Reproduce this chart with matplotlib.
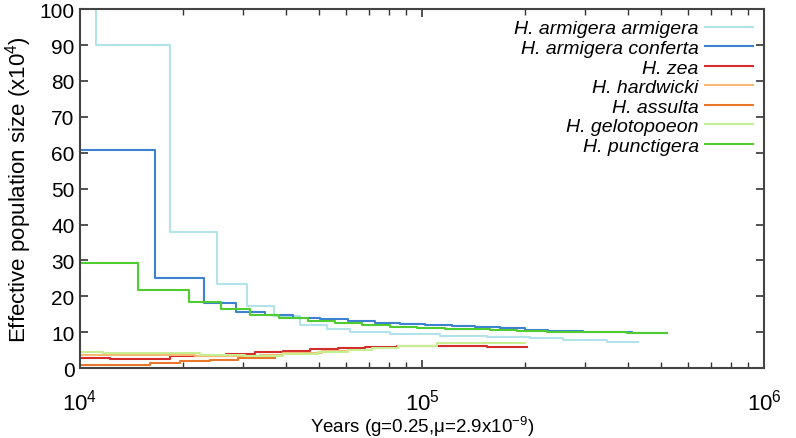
import numpy as np
import matplotlib.pyplot as plt

plt.rcParams['font.family'] = ['Liberation Sans', 'DejaVu Sans']
plt.rcParams['mathtext.fontset'] = 'custom'
plt.rcParams['mathtext.rm'] = 'Liberation Sans'
plt.rcParams['mathtext.it'] = 'Liberation Sans:italic'
plt.rcParams['mathtext.default'] = 'regular'

# PSMC step curves: years and Ne (x10^4), last point marks the end of the curve
arm_t = [10000, 11140, 18340, 25150, 30780, 36930, 43980, 52760, 61580, 80610,
         112900, 154900, 206900, 258400, 347500, 428000]
arm_ne = [112, 90.0, 37.9, 23.4, 17.3, 14.5, 12.0, 10.9, 10.0, 9.4,
          9.0, 8.7, 8.3, 7.8, 7.2, 7.2]

conf_t = [10000, 16570, 23050, 28580, 34750, 41970, 50330, 60750, 72880, 86240,
          102000, 122400, 142900, 169100, 200100, 233600, 295700, 411200, 520500]
conf_ne = [60.8, 25.1, 18.1, 15.6, 14.8, 14.1, 13.6, 13.2, 12.7, 12.3,
           12.0, 11.7, 11.4, 11.1, 10.7, 10.4, 10.1, 9.75, 9.75]

zea_t = [10000, 12240, 18340, 26720, 32490, 39240, 47050, 56800, 68130, 84540,
         111300, 154900, 202800]
zea_ne = [2.8, 2.7, 3.3, 3.9, 4.4, 4.8, 5.3, 5.7, 6.0, 6.2, 6.3, 5.9, 5.9]

hard_t = [10000, 21690, 33590, 39240, 51010, 60750]
hard_ne = [3.7, 3.4, 3.6, 4.2, 4.8, 4.8]

ass_t = [10000, 16020, 19610, 23990, 28970, 37170]
ass_ne = [0.9, 1.4, 1.9, 2.4, 2.9, 2.9]

gelo_t = [10000, 11680, 22430, 30370, 39240, 49650, 60750, 71420, 85100,
          110600, 200100]
gelo_ne = [4.6, 4.1, 3.8, 3.4, 3.9, 4.5, 5.1, 5.5, 6.3, 6.9, 6.9]

punc_t = [10000, 14780, 20830, 25840, 31410, 38190, 46420, 55670, 66770, 80610,
          96690, 116800, 158000, 189600, 232000, 289700, 397600, 520500]
punc_ne = [29.3, 21.7, 18.4, 16.4, 14.8, 13.9, 13.1, 12.5, 12.0, 11.6,
           11.3, 11.0, 10.7, 10.4, 10.2, 10.0, 9.8, 9.8]

series = [
    (arm_t, arm_ne, 'H. armigera armigera', '#b3e3ea'),
    (conf_t, conf_ne, 'H. armigera conferta', '#3c82d0'),
    (zea_t, zea_ne, 'H. zea', '#d42b2b'),
    (hard_t, hard_ne, 'H. hardwicki', '#f6b872'),
    (ass_t, ass_ne, 'H. assulta', '#e8772c'),
    (gelo_t, gelo_ne, 'H. gelotopoeon', '#c6ee92'),
    (punc_t, punc_ne, 'H. punctigera', '#4fcc30'),
]

fig = plt.figure(figsize=(7.96, 4.39), dpi=100)
ax = fig.add_axes([0.1005, 0.159, 0.8593, 0.818])

for t, ne, name, col in series:
    ax.plot(t, ne, drawstyle='steps-post', color=col, lw=1.5, label=name)

ax.set_xscale('log')
ax.set_xlim(1e4, 1e6)
ax.set_ylim(0, 100)
ax.set_yticks(np.arange(0, 101, 10))
ax.tick_params(axis='both', which='both', direction='in', top=True, right=True,
               color='#333333')
ax.tick_params(axis='y', labelsize=15, pad=4)
ax.tick_params(axis='x', labelsize=16, pad=15)
ax.tick_params(which='major', length=6, width=1.2)
ax.tick_params(which='minor', length=4, width=1.0)
for s in ax.spines.values():
    s.set_color('#444444')
    s.set_linewidth(1.5)

ax.set_xlabel('Years (g=0.25,\u03bc=2.9x10$^{-9}$)', fontsize=13.5, va='center')
ax.xaxis.set_label_coords(0.5, -0.16)
ax.set_ylabel('Effective population size (x10$^4$)', fontsize=16, labelpad=4)

leg = ax.legend(loc='upper right', frameon=False, markerfirst=False,
                prop={'style': 'italic', 'size': 14}, handlelength=2.5,
                labelspacing=0.1, borderaxespad=0.15, handletextpad=0.3)

fig.savefig('out.png', dpi=100)
